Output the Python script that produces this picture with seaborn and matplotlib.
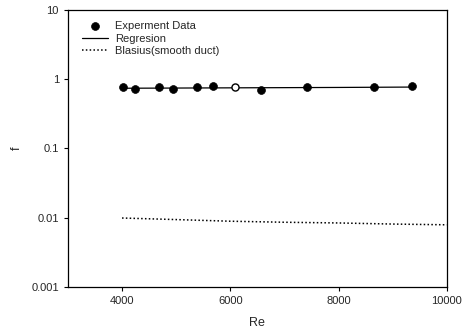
import pandas as pd
import numpy as np
import matplotlib
matplotlib.use('Agg')
import matplotlib.pyplot as plt
import seaborn as sns

re_exp = [4020, 4240, 4690, 4935, 5380, 5680, 6090, 6575, 7415, 8660, 9365]
f_exp = [0.76, 0.72, 0.76, 0.71, 0.77, 0.80, 0.76, 0.69, 0.77, 0.76, 0.79]
open_point = [False, False, False, False, False, False, True, False, False, False, False]

# regression line
re_reg = [4000, 6000, 8000, 9400]
f_reg = [0.74, 0.75, 0.76, 0.77]

# Blasius (smooth duct)
re_bla = [4000, 5000, 6000, 7000, 8000, 9000, 10000]
f_bla = [0.0099, 0.0094, 0.0089, 0.0086, 0.0084, 0.0081, 0.0079]

y_ticks = [0.001, 0.01, 0.1, 1, 10]
y_labels = ['0.001', '0.01', '0.1', '1', '10']
x_ticks = [4000, 6000, 8000, 10000]

df = pd.DataFrame({'Re': re_exp, 'f': f_exp, 'open': open_point})

sns.set_style('ticks')
plt.rcParams['font.family'] = ['Liberation Sans', 'DejaVu Sans']

fig = plt.figure(figsize=(4.62, 3.31), dpi=100)
ax = fig.add_axes([0.147, 0.133, 0.82, 0.837])

sns.lineplot(x=re_reg, y=f_reg, ax=ax, color='black', linewidth=0.9, label='Regresion')
sns.lineplot(x=re_bla, y=f_bla, ax=ax, color='black', linewidth=1.1, linestyle=(0, (1, 1.5)),
             label='Blasius(smooth duct)')
sns.scatterplot(data=df[~df['open']], x='Re', y='f', ax=ax, color='black', s=32,
                edgecolor='black', linewidth=0.5, label='Experment Data', zorder=3)
sns.scatterplot(data=df[df['open']], x='Re', y='f', ax=ax, color='white', s=26,
                edgecolor='black', linewidth=1, zorder=3)

ax.set_yscale('log')
ax.set_xlim(3000, 10000)
ax.set_ylim(0.001, 10)
ax.set_yticks(y_ticks)
ax.set_yticklabels(y_labels)
ax.minorticks_off()
ax.set_xticks(x_ticks)
ax.set_xticklabels([str(t) for t in x_ticks])
ax.tick_params(labelsize=8, length=3, width=0.8, color='black')
ax.set_xlabel('Re', fontsize=9, labelpad=8)
ax.set_ylabel('f', fontsize=9, labelpad=6)
for s in ax.spines.values():
    s.set_linewidth(0.9)
    s.set_color('black')

handles, labels = ax.get_legend_handles_labels()
order = [labels.index('Experment Data'), labels.index('Regresion'), labels.index('Blasius(smooth duct)')]
ax.legend([handles[i] for i in order], [labels[i] for i in order], loc='upper left',
          fontsize=8, frameon=False, handlelength=2.4, handletextpad=0.6,
          labelspacing=0.2, borderaxespad=0.0, bbox_to_anchor=(0.025, 0.975))

fig.savefig('out.png', dpi=100)
